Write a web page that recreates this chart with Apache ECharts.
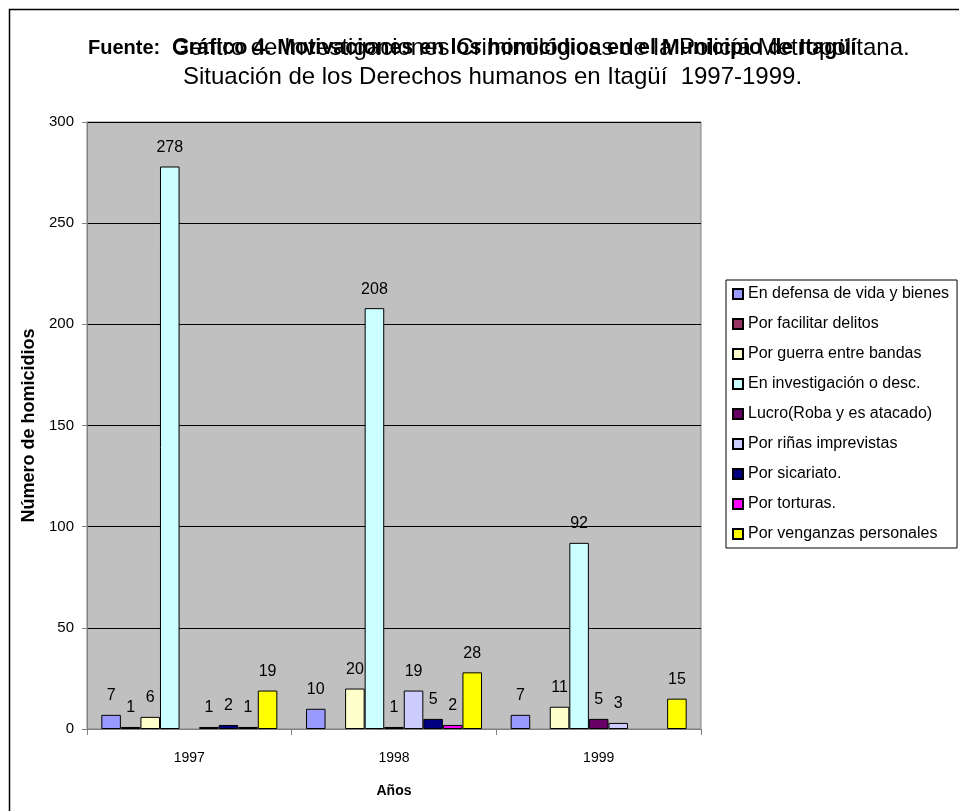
<!DOCTYPE html>
<html>
<head>
<meta charset="utf-8">
<title>Homicidios Itagüí</title>
<style>
  html, body { margin: 0; width: 100%; height: 100%; background: #fff; }
  #chart { width: 959px; height: 811px; }
</style>
</head>
<body>
<div id="chart"></div>
<script src="https://cdn.jsdelivr.net/npm/echarts@6/dist/echarts.min.js"></script>
<script>
// datos
const years = ['1997', '1998', '1999'];
const seriesNames = [
  'En defensa de vida y bienes',
  'Por facilitar delitos',
  'Por guerra entre bandas',
  'En investigación o desc.',
  'Lucro(Roba y es atacado)',
  'Por riñas imprevistas',
  'Por sicariato.',
  'Por torturas.',
  'Por venganzas personales'
];
const defensa = [7, 10, 7];
const facilitar = [1, null, null];
const guerra = [6, 20, 11];
const investigacion = [278, 208, 92];
const lucro = [null, 1, 5];
const rinas = [1, 19, 3];
const sicariato = [2, 5, null];
const torturas = [1, 2, null];
const venganzas = [19, 28, 15];
const yTicks = [0, 50, 100, 150, 200, 250, 300];

const allValues = [defensa, facilitar, guerra, investigacion, lucro, rinas, sicariato, torturas, venganzas];
const colors = ['#9999FF', '#993366', '#FFFFCC', '#CCFFFF', '#660066', '#CCCCFF', '#000080', '#FF00FF', '#FFFF00'];

const font = 'Arial, "Liberation Sans", sans-serif';

let chart = echarts.init(document.getElementById('chart'));

let series = seriesNames.map(function(name, i) {
  return {
    name: name,
    type: 'bar',
    data: allValues[i],
    barGap: '0%',
    barCategoryGap: '14%',
    itemStyle: { color: colors[i], borderColor: '#000', borderWidth: 1 },
    label: {
      show: true,
      position: 'top',
      distance: 11,
      color: '#000',
      fontFamily: font,
      fontSize: 16
    },
    emphasis: { disabled: true }
  };
});

chart.setOption({
  animation: false,
  textStyle: { fontFamily: font },
  title: [
    {
      text: 'Fuente:',
      left: 88,
      top: 38,
      padding: 0,
      textStyle: { fontWeight: 'bold', fontSize: 20, color: '#000', fontFamily: font }
    },
    {
      text: 'Centro de Investigaciones Criminológicas de la Policía Metropolitana.',
      left: 172,
      top: 36,
      padding: 0,
      textStyle: { fontWeight: 'normal', fontSize: 24, color: '#000', fontFamily: font }
    },
    {
      text: 'Gráfico 4. Motivaciones en los homicidios en el Municipio de Itagüí',
      left: 172,
      top: 37,
      padding: 0,
      textStyle: { fontWeight: 'bold', fontSize: 21.5, color: '#000', fontFamily: font }
    },
    {
      text: 'Situación de los Derechos humanos en Itagüí  1997-1999.',
      left: 183,
      top: 65,
      padding: 0,
      textStyle: { fontWeight: 'normal', fontSize: 24, color: '#000', fontFamily: font }
    }
  ],
  graphic: [{
    type: 'rect',
    shape: { x: 9.5, y: 9.5, width: 1000, height: 900 },
    style: { fill: 'none', stroke: '#000', lineWidth: 1.5 },
    silent: true,
    z: -1
  }],
  legend: {
    orient: 'vertical',
    left: 726,
    top: 280,
    itemWidth: 10,
    itemHeight: 10,
    itemGap: 14,
    icon: 'rect',
    borderColor: '#000',
    borderWidth: 1,
    padding: [6, 8, 6, 6],
    backgroundColor: '#fff',
    textStyle: { fontFamily: font, fontSize: 16, color: '#000' },
    data: seriesNames
  },
  grid: {
    left: 87,
    top: 122,
    right: 258,
    bottom: 82,
    show: true,
    backgroundColor: '#C0C0C0',
    borderColor: '#808080',
    borderWidth: 1
  },
  xAxis: {
    type: 'category',
    data: years,
    name: 'Años',
    nameLocation: 'middle',
    nameGap: 55,
    nameTextStyle: { fontFamily: font, fontSize: 14, fontWeight: 'bold', color: '#000' },
    axisLine: { lineStyle: { color: '#808080', width: 1 } },
    axisTick: { show: true, length: 6, lineStyle: { color: '#808080' } },
    axisLabel: { fontFamily: font, fontSize: 14, color: '#000', margin: 22 }
  },
  yAxis: {
    type: 'value',
    min: yTicks[0],
    max: yTicks[yTicks.length - 1],
    interval: 50,
    name: 'Número de homicidios',
    nameLocation: 'middle',
    nameGap: 46,
    nameTextStyle: { fontFamily: font, fontSize: 18, fontWeight: 'bold', color: '#000' },
    axisLine: { show: true, lineStyle: { color: '#808080' } },
    axisTick: { show: true, length: 5, lineStyle: { color: '#808080' } },
    axisLabel: { fontFamily: font, fontSize: 15, color: '#000', margin: 13 },
    splitLine: { lineStyle: { color: '#000', width: 1 } }
  },
  series: series
});
</script>
</body>
</html>
